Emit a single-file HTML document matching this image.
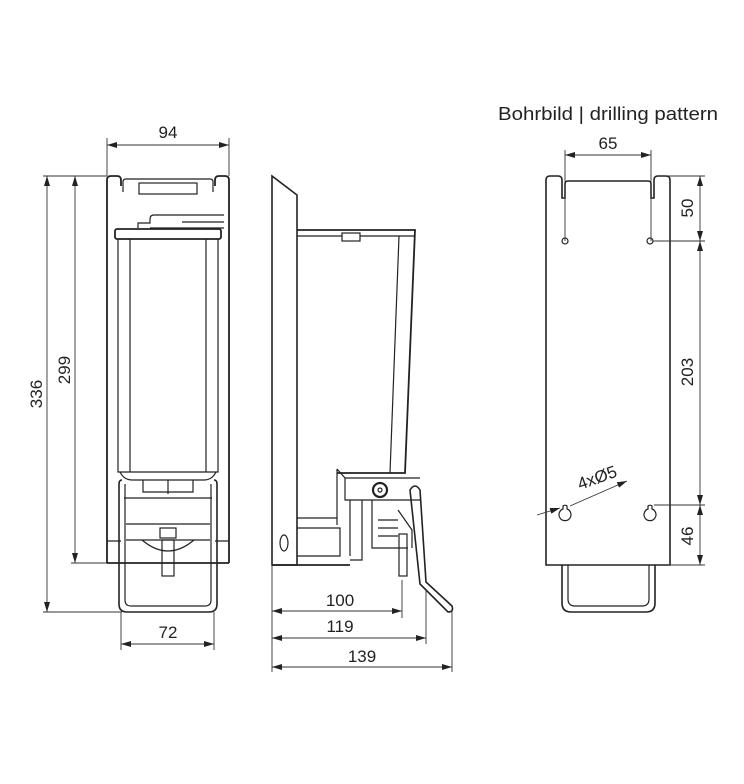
<!DOCTYPE html>
<html><head><meta charset="utf-8"><style>
html,body{margin:0;padding:0;background:#fff}
svg{display:block}
text{font-family:"Liberation Sans",sans-serif;fill:#222}
</style></head><body>
<svg width="744" height="784" viewBox="0 0 744 784" xmlns="http://www.w3.org/2000/svg">
<defs>
<marker id="a" viewBox="0 0 10 6" refX="10" refY="3" markerWidth="10" markerHeight="6" orient="auto-start-reverse" markerUnits="userSpaceOnUse"><path d="M0,0L10,3L0,6z" fill="#222"/></marker>
</defs>
<g fill="none" stroke="#222" stroke-width="1.2">
<!-- FRONT VIEW -->
<path d="M107,563 V180 q0,-4 4,-4 h6 q4,0 4,4 v6 h-0" stroke-width="1.8"/>
<path d="M229,563 V180 q0,-4 -4,-4 h-6 q-4,0 -4,4 v6" stroke-width="1.8"/>
<path d="M107,563 H229" stroke-width="1.8"/>
<path d="M123,192 v-10 q0,-3 3,-3 h84 q3,0 3,3 v10"/>
<rect x="139" y="183" width="58" height="11"/>
<path d="M138,228 v-5 h12 v-4 q0,-4 4,-4 h70 M182,222 h42 M150,228 h74"/>
<rect x="115" y="229" width="106" height="10" rx="2" stroke-width="1.8"/>
<path d="M118,239 V472 H218 V239 M130,239 V472 M206,239 V472"/>
<path d="M120,472 q4,8 12,8 h72 q8,0 12,-8"/>
<path d="M122,480 q-3,0 -3,4 v120 q0,8 8,8 h82 q8,0 8,-8 v-120 q0,-4 -3,-4" stroke-width="1.6"/>
<path d="M125,484 v116 q0,6 6,6 h74 q6,0 6,-6 v-116"/>
<path d="M143,480 v12 h50 v-12 M168,480 v14 M124,498 h88 M126,524 h84"/>
<path d="M126,540 h84 M142,540 q26,22 52,0"/>
<rect x="160" y="528" width="16" height="10"/>
<rect x="162" y="540" width="12" height="36"/>
<path d="M107,541 h14 M215,541 h14"/>
<!-- SIDE VIEW -->
<path d="M272,565 V176 L297,195 V565 Z" stroke-width="1.6"/>
<path d="M272,565 H350" stroke-width="1.8"/>
<path d="M297,230 H415 L405,473 H337" stroke-width="1.8"/>
<path d="M297,236 H415"/>
<rect x="342" y="233" width="18" height="8" fill="#fff"/>
<path d="M399,236 L390,473"/>
<path d="M337,469 L345,478 H420 M337,469 V525 M345,478 V500 H420"/>
<circle cx="380" cy="490" r="7" stroke-width="2.2"/><circle cx="380" cy="490" r="2"/>
<path d="M297,518 H337 M297,528 H340 V556 H297 M350,556 V500 M362,500 V560 H350 M372,500 V548 H408"/>
<path d="M378,520 h20 M378,528 h20 M378,536 h20 M398,510 L412,530 V548"/>
<rect x="399" y="534" width="8" height="42"/>
<ellipse cx="284" cy="543" rx="4" ry="8"/>
<path d="M410,490 q5,-8 10,0 L426,582 L452,606 q2,6 -4,6 L420,584 Z" stroke-width="1.6"/>
<!-- RIGHT VIEW -->
<path d="M546,565 V180 q0,-4 4,-4 h8 q4,0 4,4 v18 h3 v-14 q0,-3 3,-3 h80 q3,0 3,3 v14 h3 v-18 q0,-4 4,-4 h8 q4,0 4,4 V565 Z" stroke-width="1.6"/>
<circle cx="565" cy="241" r="3"/><circle cx="650" cy="241" r="3"/>
<path d="M563,506 a3,3 0 0 1 4,0 v3 a6,6 0 1 1 -4,0 z"/>
<path d="M648,506 a3,3 0 0 1 4,0 v3 a6,6 0 1 1 -4,0 z"/>
<path d="M562,565 v38 q0,9 9,9 h75 q9,0 9,-9 v-38" stroke-width="1.6"/>
<path d="M568,565 v34 q0,7 7,7 h67 q7,0 7,-7 v-34"/>
</g>
<!-- DIMENSIONS -->
<g fill="none" stroke="#333" stroke-width="0.9">
<path d="M107,176 V138 M229,176 V138"/>
<path d="M107,145 H229" marker-start="url(#a)" marker-end="url(#a)"/>
<path d="M43,176 H107 M43,612 H122 M71,563 H107"/>
<path d="M47,176 V612" marker-start="url(#a)" marker-end="url(#a)"/>
<path d="M75,176 V563" marker-start="url(#a)" marker-end="url(#a)"/>
<path d="M121,612 V650 M214,612 V650"/>
<path d="M121,644 H214" marker-start="url(#a)" marker-end="url(#a)"/>
<path d="M272,565 V672 M402,580 V618 M426,590 V644 M452,610 V672"/>
<path d="M272,611 H402" marker-start="url(#a)" marker-end="url(#a)"/>
<path d="M272,638 H426" marker-start="url(#a)" marker-end="url(#a)"/>
<path d="M272,667 H452" marker-start="url(#a)" marker-end="url(#a)"/>
<path d="M565,150 V241 M651,150 V241"/>
<path d="M565,155 H651" marker-start="url(#a)" marker-end="url(#a)"/>
<path d="M668,176 H705 M653,241 H705 M654,505 H705 M668,565 H705"/>
<path d="M700,176 V241" marker-start="url(#a)" marker-end="url(#a)"/>
<path d="M700,241 V505" marker-start="url(#a)" marker-end="url(#a)"/>
<path d="M700,505 V565" marker-start="url(#a)" marker-end="url(#a)"/>
<path d="M537,515 L560,508" marker-end="url(#a)"/>
<path d="M627,481 L570,506" marker-start="url(#a)"/>
</g>
<g font-size="17">
<text x="168" y="138" text-anchor="middle">94</text>
<text x="168" y="638" text-anchor="middle">72</text>
<text x="340" y="606" text-anchor="middle">100</text>
<text x="340" y="632" text-anchor="middle">119</text>
<text x="362" y="662" text-anchor="middle">139</text>
<text x="608" y="149" text-anchor="middle">65</text>
<text transform="translate(42,394) rotate(-90)" text-anchor="middle">336</text>
<text transform="translate(70,370) rotate(-90)" text-anchor="middle">299</text>
<text transform="translate(693,208) rotate(-90)" text-anchor="middle">50</text>
<text transform="translate(693,372) rotate(-90)" text-anchor="middle">203</text>
<text transform="translate(693,536) rotate(-90)" text-anchor="middle">46</text>
<text transform="translate(580,490) rotate(-20)">4xØ5</text>
<text x="498" y="120" font-size="18" textLength="220" lengthAdjust="spacingAndGlyphs">Bohrbild | drilling pattern</text>
</g>
</svg>
</body></html>
